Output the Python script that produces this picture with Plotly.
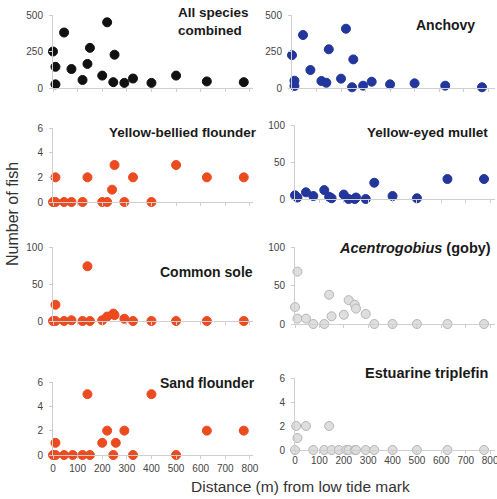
import plotly.graph_objects as go

W, H = 497, 499

# ---------------- data (distance m, number of fish) ----------------
all_x = [0, 10, 10, 45, 75, 120, 140, 150, 200, 220, 245, 250, 290, 325, 400, 500, 625, 775]
all_y = [250, 145, 25, 380, 130, 55, 165, 275, 85, 450, 40, 228, 35, 65, 35, 85, 45, 40]

anchovy_x = [0, 10, 10, 45, 75, 120, 140, 150, 200, 220, 245, 250, 290, 325, 400, 500, 625, 775]
anchovy_y = [225, 50, 14, 363, 123, 48, 36, 265, 64, 406, 5, 196, 16, 43, 25, 32, 16, 5]

ybf_x = [0, 10, 10, 45, 75, 120, 140, 200, 220, 240, 250, 290, 325, 400, 500, 625, 775]
ybf_y = [0, 0, 2, 0, 0, 0, 2, 0, 0, 1, 3, 0, 2, 0, 3, 2, 2]

mullet_x = [0, 10, 45, 75, 120, 140, 150, 200, 220, 245, 250, 290, 325, 400, 500, 625, 775]
mullet_y = [5, 2, 9, 4, 12, 3, 1, 6, 0, 0, 2, 0, 22, 4, 1, 27, 27]

sole_x = [0, 10, 10, 45, 75, 120, 140, 150, 200, 220, 245, 250, 290, 325, 400, 500, 625, 775]
sole_y = [0, 22, 0, 0, 1, 0, 74, 0, 1, 6, 10, 8, 3, 0, 0, 0, 0, 0]

goby_x = [0, 10, 10, 45, 75, 120, 140, 150, 200, 220, 245, 250, 290, 325, 400, 500, 625, 775]
goby_y = [22, 68, 7, 7, 0, 0, 38, 10, 12, 31, 25, 20, 13, 0, 0, 0, 0, 0]

sand_x = [0, 10, 10, 45, 80, 120, 140, 150, 200, 220, 245, 255, 290, 325, 400, 500, 625, 775]
sand_y = [0, 0, 1, 0, 0, 0, 5, 0, 1, 2, 0, 1, 2, 0, 5, 0, 2, 2]

trip_x = [0, 5, 10, 45, 75, 120, 140, 150, 180, 210, 220, 245, 250, 290, 325, 400, 500, 625, 775]
trip_y = [0, 2, 1, 2, 0, 0, 2, 0, 0, 0, 0, 0, 0, 0, 0, 0, 0, 0, 0]

x_ticks = [0, 100, 200, 300, 400, 500, 600, 700, 800]

BLACK = "#111111"
BLUE = "#22369c"
ORANGE = "#ec4a1f"
GRAYF = "#dedede"
GRAYL = "#b5b5b5"

FONT = "Liberation Sans, Arial, sans-serif"


def fx(px):
    return px / W


def fy(py):
    return 1 - py / H


# panel: data, colour, y range, y ticks, pixel box (x0, x1, y_zero, y_top), x range max,
# show x labels, x label standoff
panels = [
    (all_x, all_y, BLACK, BLACK, 500, [0, 250, 500], (53, 253, 88, 15), 812.5, False, 0),
    (anchovy_x, anchovy_y, BLUE, BLUE, 500, [0, 250, 500], (292, 495, 88, 15), 828, False, 0),
    (ybf_x, ybf_y, ORANGE, ORANGE, 6, [0, 2, 4, 6], (53, 253, 202, 128), 812.5, False, 0),
    (mullet_x, mullet_y, BLUE, BLUE, 100, [0, 50, 100], (295, 495, 199, 125), 820, False, 0),
    (sole_x, sole_y, ORANGE, ORANGE, 100, [0, 50, 100], (53, 253, 321, 247), 812.5, False, 0),
    (goby_x, goby_y, GRAYF, GRAYL, 100, [0, 50, 100], (295, 495, 324, 247), 820, False, 0),
    (sand_x, sand_y, ORANGE, ORANGE, 6, [0, 2, 4, 6], (53, 253, 455, 382), 812.5, True, 1),
    (trip_x, trip_y, GRAYF, GRAYL, 6, [0, 2, 4, 6], (295, 495, 450, 378), 820, True, -2),
]

fig = go.Figure()
layout = {}
for i, (xs, ys, fill, line, ymax, yt, box, xmax, showx, xstand) in enumerate(panels):
    n = "" if i == 0 else str(i + 1)
    x0, x1, yz, ytop = box
    fig.add_trace(go.Scatter(
        x=xs, y=ys, mode="markers", xaxis="x" + n, yaxis="y" + n,
        marker=dict(size=9, color=fill, line=dict(color=line, width=1)),
        cliponaxis=False, showlegend=False, hoverinfo="skip",
    ))
    layout["xaxis" + n] = dict(
        domain=[fx(x0), fx(x1)], range=[0, xmax], anchor="y" + n,
        showgrid=False, zeroline=False, showline=True, linecolor="#cfcfcf", linewidth=1,
        ticks="outside", ticklen=3, tickcolor="#cfcfcf", tickvals=x_ticks,
        showticklabels=showx, tickfont=dict(size=10, color="#444444", family=FONT),
        ticklabelstandoff=xstand, ticklabeloverflow="allow", automargin=False,
    )
    layout["yaxis" + n] = dict(
        domain=[fy(yz), fy(ytop)], range=[0, ymax], anchor="x" + n,
        showgrid=False, zeroline=False, showline=True, linecolor="#cfcfcf", linewidth=1,
        ticks="outside", ticklen=3, tickcolor="#cfcfcf", tickvals=yt,
        tickfont=dict(size=10, color="#444444", family=FONT), ticklabelstandoff=4,
        automargin=False,
    )

# text, x px, y px, x anchor, y anchor, font size
titles = [
    ("All species<br>combined", 176, 3, "left", "top", 13.5),
    ("Anchovy", 477, 25, "right", "middle", 14),
    ("Yellow-bellied flounder", 107, 132, "left", "middle", 13.5),
    ("Yellow-eyed mullet", 490, 133, "right", "middle", 13.5),
    ("Common sole", 158, 272, "left", "middle", 14),
    ("<i>Acentrogobius</i> (goby)", 493, 248, "right", "middle", 14.5),
    ("Sand flounder", 158, 383, "left", "middle", 14),
    ("Estuarine triplefin", 490, 373, "right", "middle", 14.5),
]
annotations = []
for txt, px, py, xa, ya, fs in titles:
    annotations.append(dict(
        text="<b>" + txt + "</b>", x=fx(px), y=fy(py), xref="paper", yref="paper",
        xanchor=xa, yanchor=ya, showarrow=False, align="left",
        font=dict(size=fs, color="#1a1a1a", family=FONT),
    ))

annotations.append(dict(
    text="Number of fish", x=fx(12), y=fy(214), xref="paper", yref="paper",
    xanchor="center", yanchor="middle", textangle=-90, showarrow=False,
    font=dict(size=16, color="#333333", family=FONT),
))
annotations.append(dict(
    text="Distance (m) from low tide mark", x=fx(300), y=fy(486), xref="paper", yref="paper",
    xanchor="center", yanchor="middle", showarrow=False,
    font=dict(size=15.5, color="#333333", family=FONT),
))

fig.update_layout(
    width=W, height=H, margin=dict(l=0, r=0, t=0, b=0, pad=0, autoexpand=False),
    paper_bgcolor="white", plot_bgcolor="white",
    annotations=annotations, **layout,
)

fig.write_html(
    "out.html",
    config={"displayModeBar": False},
    post_script="document.body.style.margin='0';document.body.style.overflow='hidden';",
)
